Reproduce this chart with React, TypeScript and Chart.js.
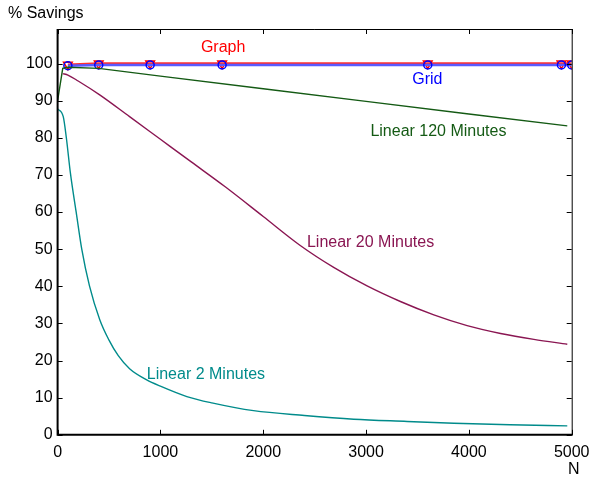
import React, { useEffect, useRef } from "react";
import { Chart, registerables } from "chart.js";

Chart.register(...registerables);

// ---- data ----
const markerN = [100, 400, 900, 1600, 3600, 4900, 5000];
const graphVals = [99.7, 100, 100, 100, 100, 100, 100];
const gridVals = [99.4, 99.6, 99.6, 99.6, 99.6, 99.6, 99.6];

const lin120N = [0, 50, 100, 400, 1000, 2000, 3000, 4000, 4957];
const lin120Vals = [90, 98.7, 99.0, 98.7, 96.6, 93.2, 89.8, 86.4, 83.2];

const lin20N = [50, 100, 200, 413, 700, 1000, 1300, 1630, 2000, 2360, 2685, 3010, 3334, 3659, 3983, 4308, 4632, 4957];
const lin20Vals = [97.3, 96.9, 95.3, 91.5, 85.7, 79.6, 73.5, 66.8, 58.8, 51.0, 45.1, 40.1, 35.9, 32.3, 29.4, 27.3, 25.7, 24.4];

const lin2N = [0, 55, 85, 125, 180, 235, 310, 410, 500, 590, 700, 867, 1000, 1257, 1500, 1906, 2400, 2880, 3400, 3853, 4400, 4957];
const lin2Vals = [87.8, 85.7, 80.0, 70.4, 60.1, 50.0, 40.1, 31.0, 25.5, 21.3, 17.8, 14.8, 13.1, 10.3, 8.6, 6.5, 5.2, 4.2, 3.6, 3.1, 2.7, 2.4];

const xTicks = [0, 1000, 2000, 3000, 4000, 5000];
const yTicks = [0, 10, 20, 30, 40, 50, 60, 70, 80, 90, 100];

const labelTexts = ["Graph", "Grid", "Linear 120 Minutes", "Linear 20 Minutes", "Linear 2 Minutes"];
const labelN = [1610, 3596, 3042, 2425, 867];
const labelVals = [104.4, 95.6, 81.6, 51.7, 16.1];
const labelAlign = ["center", "center", "left", "left", "left"];

const RED = "#ff0000";
const BLUE = "#0000ff";
const GREEN = "#145a14";
const PURPLE = "#8a1652";
const TEAL = "#008b8b";
const labelColors = [RED, BLUE, GREEN, PURPLE, TEAL];

const FONT = "'Liberation Sans', Arial, Helvetica, sans-serif";

const pts = (xs: number[], ys: number[]) => xs.map((x, i) => ({ x, y: ys[i] }));

const decor = {
  id: "decor",
  afterDraw(chart: any) {
    const { ctx, chartArea: a, scales } = chart;
    const xs = scales.x, ys = scales.y;
    ctx.save();
    ctx.strokeStyle = "#000";
    ctx.lineWidth = 1;
    ctx.beginPath();
    ctx.moveTo(a.left, a.top + 0.5);
    ctx.lineTo(a.right + 0.5, a.top + 0.5);
    ctx.lineTo(a.right + 0.5, a.bottom);
    ctx.stroke();
    ctx.lineWidth = 2;
    ctx.beginPath();
    ctx.moveTo(a.left, a.top);
    ctx.lineTo(a.left, a.bottom);
    ctx.lineTo(a.right + 1, a.bottom);
    ctx.stroke();
    const tl = 5;
    ctx.lineWidth = 1;
    ctx.beginPath();
    xTicks.forEach((v) => {
      const px = Math.round(xs.getPixelForValue(v)) + 0.5;
      ctx.moveTo(px, a.bottom);
      ctx.lineTo(px, a.bottom - tl);
      ctx.moveTo(px, a.top);
      ctx.lineTo(px, a.top + tl);
    });
    yTicks.forEach((v) => {
      const py = Math.round(ys.getPixelForValue(v)) + 0.5;
      ctx.moveTo(a.left, py);
      ctx.lineTo(a.left + tl, py);
      ctx.moveTo(a.right, py);
      ctx.lineTo(a.right - tl, py);
    });
    ctx.stroke();
    ctx.font = `16px ${FONT}`;
    ctx.textBaseline = "middle";
    labelTexts.forEach((t, i) => {
      ctx.fillStyle = labelColors[i];
      ctx.textAlign = labelAlign[i] as CanvasTextAlign;
      ctx.fillText(t, xs.getPixelForValue(labelN[i]), ys.getPixelForValue(labelVals[i]));
    });
    ctx.fillStyle = "#000";
    ctx.textAlign = "left";
    ctx.fillText("% Savings", 8, 14);
    ctx.textAlign = "center";
    ctx.fillText("N", xs.getPixelForValue(5000) + 2, 470);
    ctx.restore();
  },
};

export default function App() {
  const ref = useRef<HTMLCanvasElement>(null);
  useEffect(() => {
    if (!ref.current) return;
    const chart = new Chart(ref.current, {
      type: "line",
      data: {
        datasets: [
          { label: "Linear 2 Minutes", data: pts(lin2N, lin2Vals), borderColor: TEAL, borderWidth: 1.4, pointRadius: 0, cubicInterpolationMode: "monotone" },
          { label: "Linear 20 Minutes", data: pts(lin20N, lin20Vals), borderColor: PURPLE, borderWidth: 1.4, pointRadius: 0, cubicInterpolationMode: "monotone" },
          { label: "Linear 120 Minutes", data: pts(lin120N, lin120Vals), borderColor: GREEN, borderWidth: 1.4, pointRadius: 0, tension: 0 },
          {
            label: "Grid", data: pts(markerN, gridVals), borderColor: "#5a5aff", borderWidth: 2.5,
            pointStyle: "circle", pointRadius: 4, pointBorderColor: BLUE, pointBackgroundColor: "rgba(0,0,0,0)", pointBorderWidth: 1.5,
          },
          {
            label: "Graph", data: pts(markerN, graphVals), borderColor: "#ff3030", borderWidth: 2.5,
            pointStyle: "triangle", rotation: 180, pointRadius: 5, pointBorderColor: RED, pointBackgroundColor: "rgba(0,0,0,0)", pointBorderWidth: 1.5,
          },
        ],
      },
      options: {
        animation: false,
        responsive: true,
        maintainAspectRatio: false,
        layout: { padding: { left: 0, top: 29, right: 17.3, bottom: 0 } },
        plugins: { legend: { display: false }, tooltip: { enabled: false } },
        scales: {
          x: {
            type: "linear", min: 0, max: 5000,
            afterBuildTicks: (s: any) => { s.ticks = xTicks.map((v) => ({ value: v })); },
            afterFit: (s: any) => { s.height = 44.2; s.paddingLeft = 0; s.paddingRight = 0; },
            grid: { display: false, drawTicks: false },
            border: { display: false },
            ticks: { color: "#000", font: { family: FONT, size: 16 }, padding: 8, maxRotation: 0, callback: (v: any) => String(v) },
          },
          y: {
            type: "linear", min: 0, max: 109.3,
            afterBuildTicks: (s: any) => { s.ticks = yTicks.map((v) => ({ value: v })); },
            afterFit: (s: any) => { s.width = 57.6; s.paddingTop = 0; s.paddingBottom = 0; },
            grid: { display: false, drawTicks: false },
            border: { display: false },
            ticks: { color: "#000", font: { family: FONT, size: 16 }, padding: 5, callback: (v: any) => String(v) },
          },
        },
      },
      plugins: [decor],
    });
    return () => chart.destroy();
  }, []);
  return (
    <div style={{ position: "fixed", left: 0, top: 0, width: 589, height: 479, background: "#fff" }}>
      <canvas ref={ref} />
    </div>
  );
}
